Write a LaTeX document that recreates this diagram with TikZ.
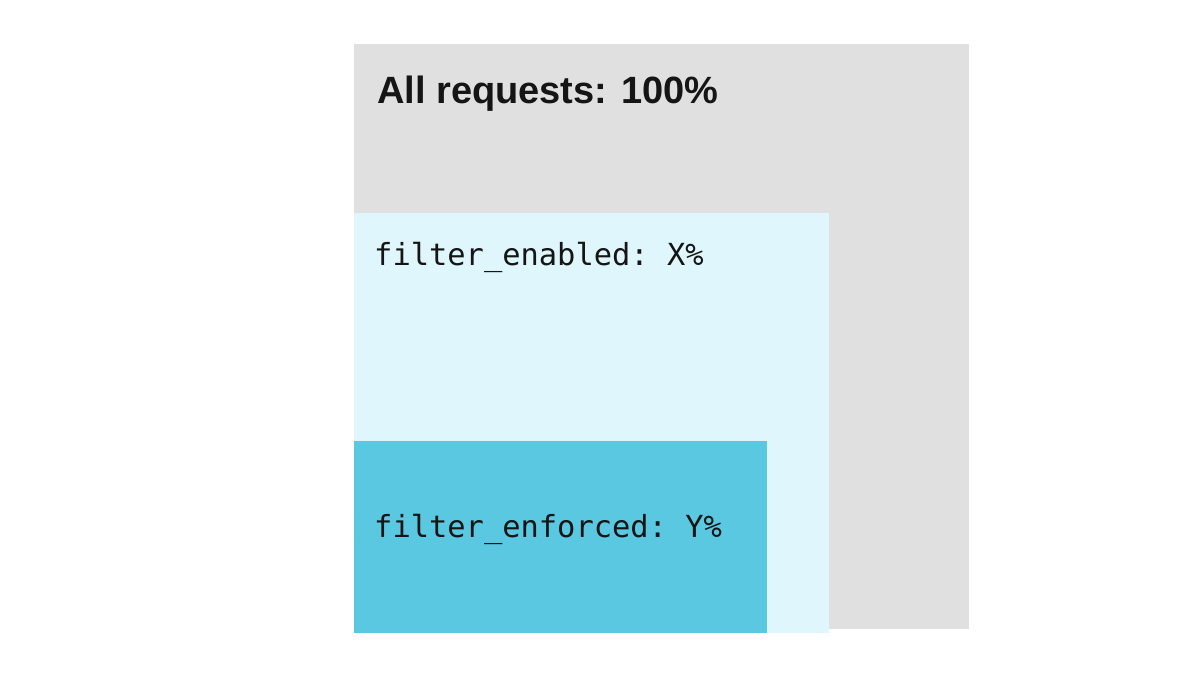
\documentclass[tikz,border=0pt]{standalone}
\usepackage{fontspec}
\setmainfont{Liberation Sans}
\setmonofont{DejaVu Sans Mono}
\definecolor{allgray}{HTML}{E0E0E0}
\definecolor{enabledcyan}{HTML}{DFF6FC}
\definecolor{enforcedcyan}{HTML}{5BC8E2}
\definecolor{inkdark}{HTML}{151515}
\begin{document}
\begin{tikzpicture}[x=1pt,y=-1pt,
  lbl/.style={anchor=base west, inner sep=0pt, text=inkdark},
  headfont/.style={font=\fontsize{38}{45}\selectfont\bfseries},
  codefont/.style={font=\fontsize{30.4}{36}\selectfont\ttfamily}]
\useasboundingbox (0,0) rectangle (1190,694);
\fill[white] (0,0) rectangle (1190,694);
\fill[allgray] (354,44) rectangle (968.5,628.5);
\fill[enabledcyan] (354,213) rectangle (829,633);
\fill[enforcedcyan] (354,441) rectangle (767,633);
\node[lbl, headfont] (all) at (377,103) {All requests: 100\%};
\node[lbl, codefont] (enabled) at (374,265) {filter\_enabled: X\%};
\node[lbl, codefont] (enforced) at (374,537) {filter\_enforced: Y\%};
\end{tikzpicture}
\end{document}
